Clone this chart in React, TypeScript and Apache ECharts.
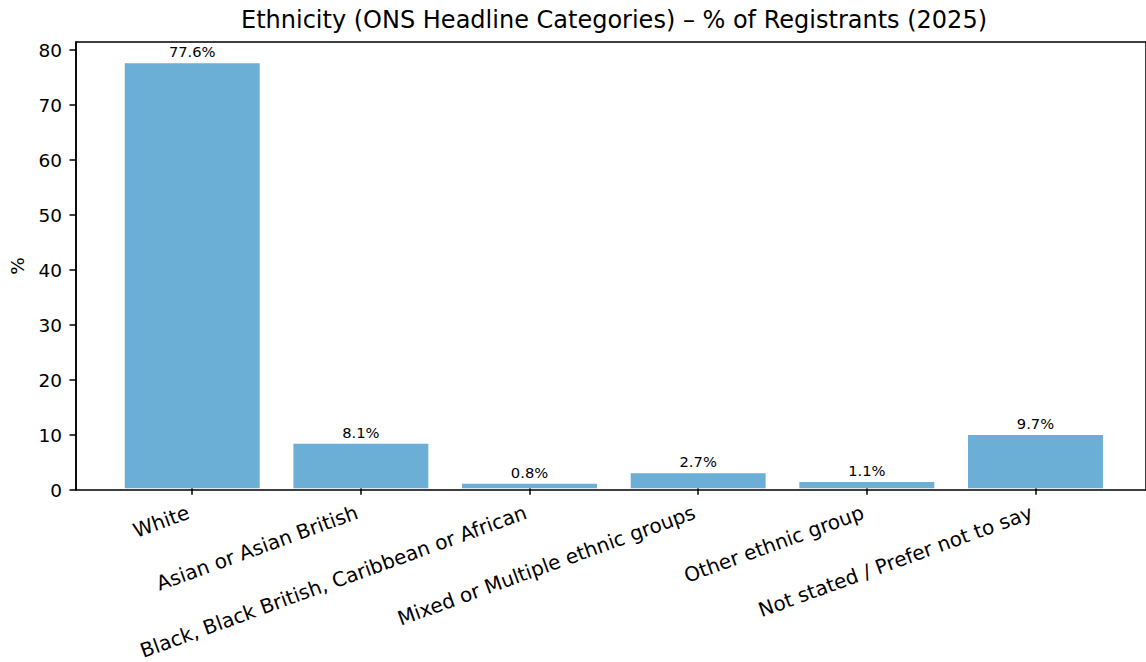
import React, { useEffect, useRef } from "react";
import * as echarts from "echarts";

const categories = [
  "White",
  "Asian or Asian British",
  "Black, Black British, Caribbean or African",
  "Mixed or Multiple ethnic groups",
  "Other ethnic group",
  "Not stated / Prefer not to say",
];
const percentages = [77.6, 8.1, 0.8, 2.7, 1.1, 9.7];
const yTicks = [0, 10, 20, 30, 40, 50, 60, 70, 80];
const yMax = 81.48;
const titleText = "Ethnicity (ONS Headline Categories) \u2013 % of Registrants (2025)";

const FONT = "DejaVu Sans";

export default function App() {
  const ref = useRef<HTMLDivElement>(null);
  useEffect(() => {
    if (!ref.current) return;
    const chart = echarts.init(ref.current, undefined, { renderer: "svg" });
    const axisLineStyle = { color: "#000", width: 1.5 };
    chart.setOption({
      animation: false,
      backgroundColor: "#fff",
      title: {
        text: titleText,
        left: 614,
        textAlign: "center",
        top: 8,
        padding: 0,
        textStyle: { fontFamily: FONT, fontSize: 24, fontWeight: "normal", color: "#000" },
      },
      grid: [
        {
          left: 76,
          top: 42,
          width: 1076,
          height: 448,
          show: true,
          borderColor: "#000",
          borderWidth: 1.5,
          backgroundColor: "transparent",
        },
        { left: 107.9, top: 42, width: 1011.9, height: 448 },
      ],
      xAxis: [
        { gridIndex: 0, type: "value", min: 0, max: 1, show: false },
        {
          gridIndex: 1,
          type: "category",
          data: categories,
          axisLine: { show: false },
          axisTick: { show: true, alignWithLabel: true, length: 6.5, lineStyle: axisLineStyle },
          axisLabel: {
            interval: 0,
            rotate: 20,
            margin: 22,
            padding: [0, 4, 0, 0],
            fontFamily: FONT,
            fontSize: 20,
            color: "#000",
          },
        },
      ],
      yAxis: [
        {
          gridIndex: 0,
          type: "value",
          min: 0,
          max: yMax,
          axisLine: { show: true, lineStyle: axisLineStyle },
          axisTick: { show: true, length: 6.5, lineStyle: axisLineStyle, customValues: yTicks },
          axisLabel: {
            margin: 14,
            fontFamily: FONT,
            fontSize: 18.5,
            color: "#000",
            customValues: yTicks,
          },
          splitLine: { show: false },
          name: "%",
          nameLocation: "middle",
          nameGap: 49,
          nameRotate: 90,
          nameTextStyle: { fontFamily: FONT, fontSize: 18.5, color: "#000" },
        },
        { gridIndex: 1, type: "value", min: 0, max: yMax, show: false },
      ],
      series: [
        {
          type: "bar",
          xAxisIndex: 1,
          yAxisIndex: 1,
          data: percentages,
          barWidth: "80%",
          itemStyle: { color: "#6baed6" },
          label: {
            show: true,
            position: "top",
            distance: 4,
            formatter: (p: any) => `${p.value.toFixed(1)}%`,
            fontFamily: FONT,
            fontSize: 14.7,
            color: "#000",
          },
        },
      ],
    });
    return () => chart.dispose();
  }, []);
  return <div ref={ref} style={{ width: 1146, height: 662, position: "absolute", left: 0, top: 0 }} />;
}
